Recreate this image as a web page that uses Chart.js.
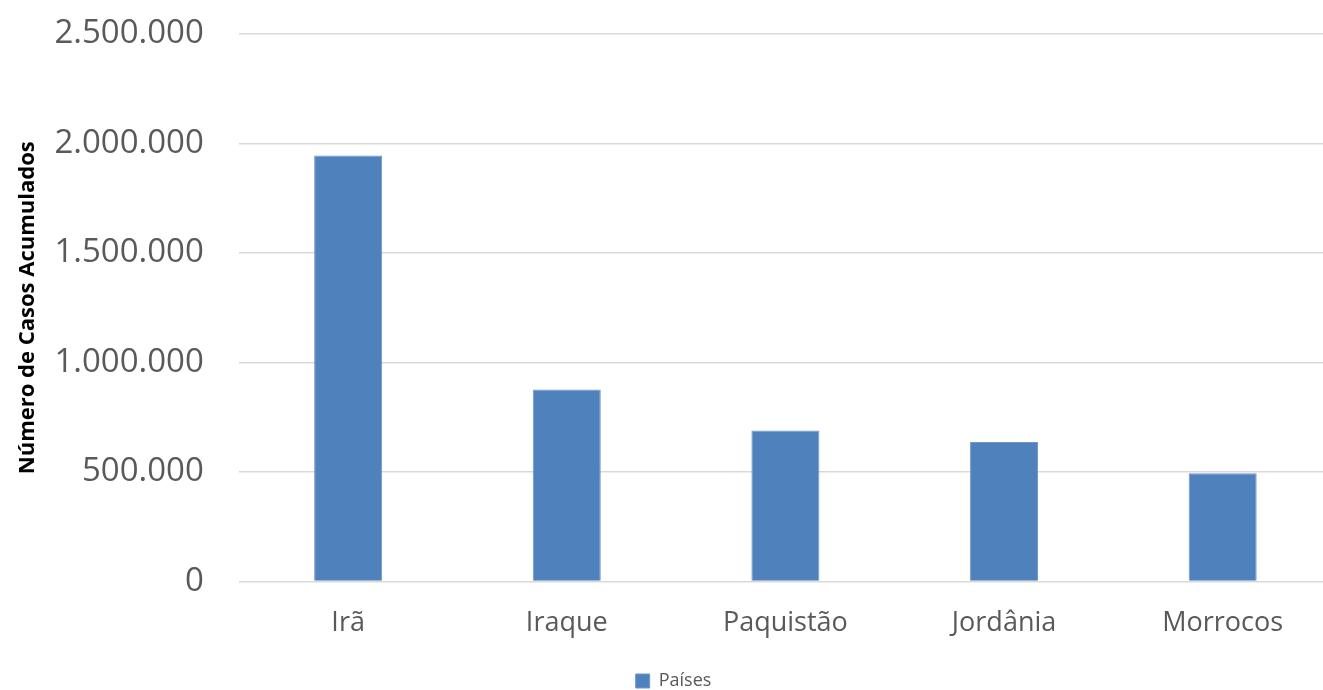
<!DOCTYPE html>
<html>
<head>
<meta charset="utf-8">
<script src="https://cdn.jsdelivr.net/npm/chart.js@4/dist/chart.umd.min.js"></script>
<style>
html,body{margin:0;padding:0;background:#fff;overflow:hidden;}
#wrap{width:1332px;height:711px;position:relative;top:-21px;}
</style>
</head>
<body>
<div id="wrap"><canvas id="c"></canvas></div>
<script>
const categories = ["Irã", "Iraque", "Paquistão", "Jordânia", "Morrocos"];
const seriesName = "Países";
const casos = [1945000, 877000, 690000, 637000, 495000];
const yTitle = "Número de Casos Acumulados";

function fmt(v){ return Math.round(v).toString().replace(/\B(?=(\d{3})+(?!\d))/g, "."); }

new Chart(document.getElementById("c"), {
  type: "bar",
  data: {
    labels: categories,
    datasets: [{
      label: seriesName,
      data: casos,
      backgroundColor: "#4F81BD",
      borderColor: "#6E96C9",
      borderWidth: 1,
      barPercentage: 1,
      categoryPercentage: 0.311
    }]
  },
  options: {
    responsive: true,
    maintainAspectRatio: false,
    animation: false,
    layout: { padding: { top: -7, left: 15, right: 0, bottom: -10 } },
    plugins: {
      legend: {
        position: "bottom",
        labels: {
          boxWidth: 14, boxHeight: 14, padding: 6,
          color: "#595959",
          font: { family: "Open Sans", size: 18 }
        }
      },
      tooltip: { enabled: false }
    },
    scales: {
      x: {
        grid: { display: false, drawTicks: false },
        border: { display: false },
        ticks: { color: "#595959", font: { family: "Open Sans", size: 27 }, padding: 26 }
      },
      y: {
        min: 0, max: 2500000,
        grid: { color: "#D9D9D9", lineWidth: 1.5, drawTicks: false },
        border: { display: false },
        ticks: {
          stepSize: 500000,
          color: "#595959",
          font: { family: "Open Sans", size: 33 },
          padding: 35,
          callback: v => fmt(v)
        },
        title: {
          display: true, text: yTitle, color: "#000",
          font: { family: "Open Sans", size: 22, weight: "bold" },
          padding: { top: 0, bottom: -22 }
        }
      }
    }
  }
});
</script>
</body>
</html>
